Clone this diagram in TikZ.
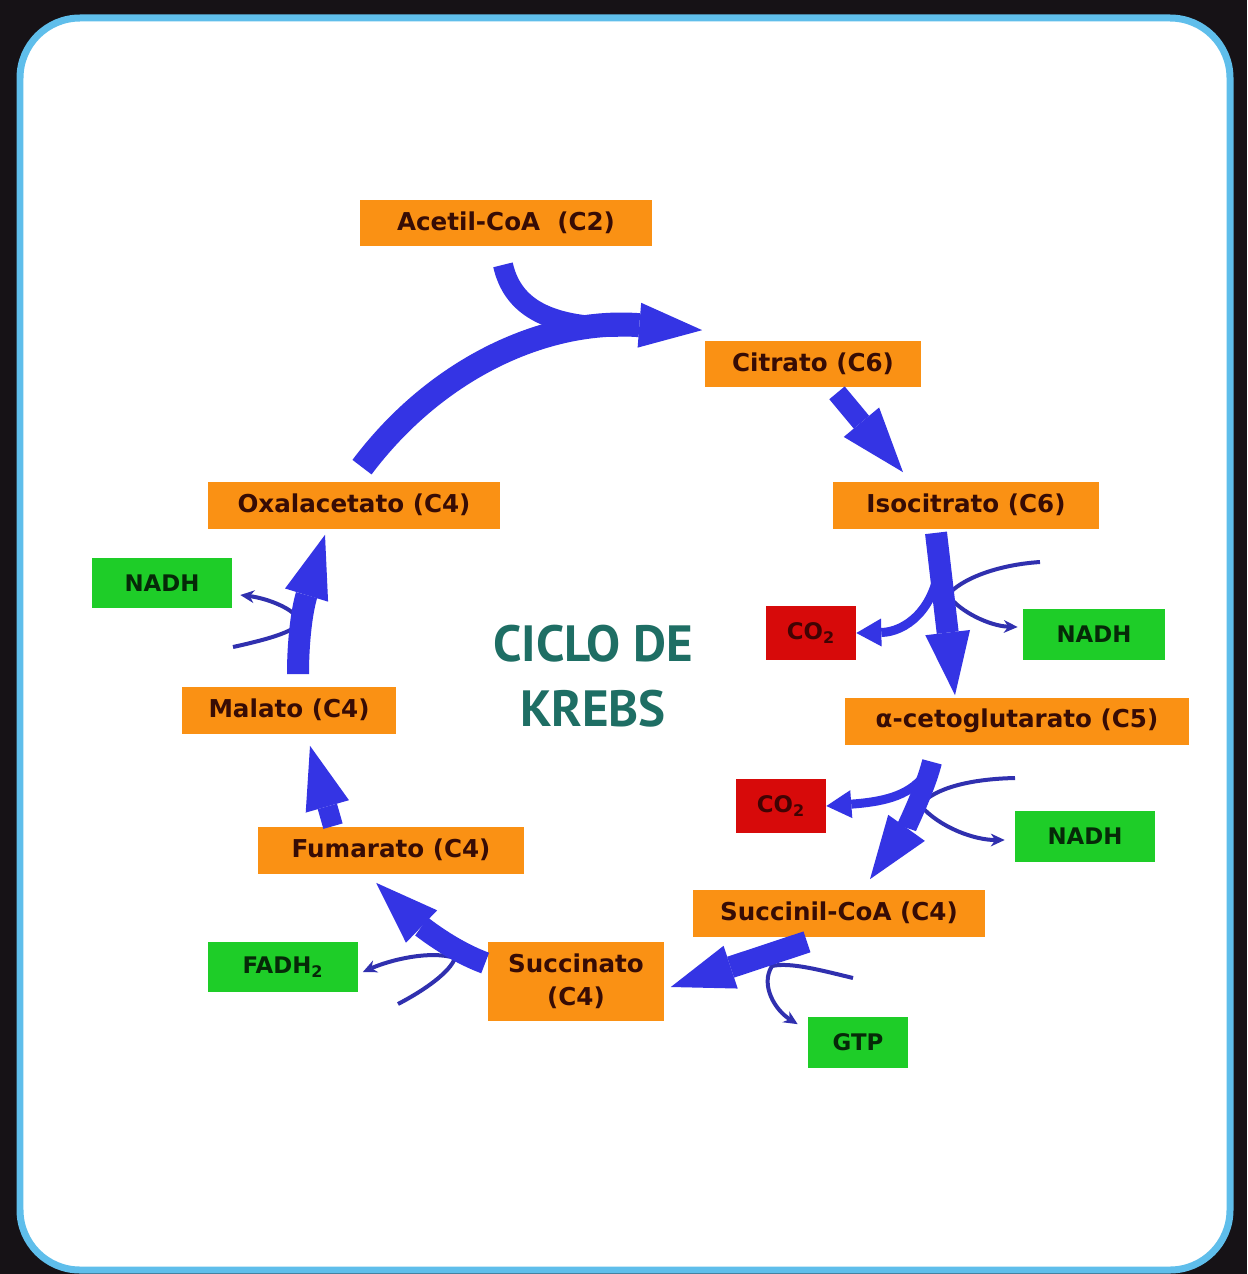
\documentclass[tikz,border=0pt]{standalone}
\usepackage{fontspec}
\setmainfont{DejaVu Sans}
\newfontfamily\titlefont{PT Sans}
\usetikzlibrary{arrows.meta,calc}
\definecolor{kblue}{RGB}{52,52,228}
\definecolor{kbluedark}{RGB}{48,48,175}
\definecolor{korange}{RGB}{250,145,20}
\definecolor{kgreen}{RGB}{30,205,40}
\definecolor{kred}{RGB}{215,10,10}
\definecolor{kbrown}{RGB}{55,12,5}
\definecolor{kteal}{RGB}{30,110,100}
\definecolor{kframe}{RGB}{95,190,235}
\definecolor{kdark}{RGB}{22,18,22}

\begin{document}
\begin{tikzpicture}[x=0.02cm, y=-0.02cm,
    metab/.style={fill=korange, minimum height=0.94cm, inner sep=0pt, text=kbrown,
                  font=\fontsize{14}{19}\selectfont\bfseries},
    carrier/.style={fill=kgreen, minimum height=1.02cm, inner sep=0pt, text=kgreen!20!black,
                    font=\fontsize{13}{16}\selectfont\bfseries},
    gas/.style={fill=kred, minimum width=1.8cm, minimum height=1.07cm, inner sep=0pt,
                text=kred!30!black, font=\fontsize{13}{16}\selectfont\bfseries},
    flow/.style={draw=kblue, line width=4.4mm, -{Triangle[length=12.6mm,width=9mm,line width=0pt]}},
    side/.style={draw=kblue, line width=1.8mm, -{Triangle[length=5mm,width=5.6mm,line width=0pt]}},
    branch/.style={draw=kbluedark, line width=0.8mm, -{Stealth[length=2.8mm,width=2.6mm,line width=0pt]}}
]
\useasboundingbox (0,0) rectangle (1247,1274);

% Frame
\fill[kdark] (0,0) rectangle (1247,1274);
\draw[draw=kframe, line width=1.4mm, fill=white, rounded corners=1.2cm] (20,18) rectangle (1230,1270);

% Metabolites
\node[metab, minimum width=5.86cm] (acetil) at (506,223) {Acetil-CoA\ \ (C2)};
\node[metab, minimum width=4.34cm] (citrato) at (813,364) {Citrato (C6)};
\node[metab, minimum width=5.34cm] (isocitrato) at (966,505) {Isocitrato (C6)};
\node[metab, minimum width=6.9cm] (cetoglut) at (1017,721) {α-cetoglutarato (C5)};
\node[metab, minimum width=5.84cm] (succinil) at (839,913) {Succinil-CoA (C4)};
\node[metab, minimum width=3.54cm, minimum height=1.58cm, align=center] (succinato) at (576,981) {Succinato\\(C4)};
\node[metab, minimum width=5.34cm] (fumarato) at (391,850) {Fumarato (C4)};
\node[metab, minimum width=4.3cm] (malato) at (289,710) {Malato (C4)};
\node[metab, minimum width=5.84cm] (oxal) at (354,505) {Oxalacetato (C4)};

% Products
\node[carrier, minimum width=2.8cm, minimum height=1.0cm] (nadhC) at (162,583) {NADH};
\node[carrier, minimum width=2.84cm] (nadhA) at (1094,634) {NADH};
\node[carrier, minimum width=2.8cm] (nadhB) at (1085,836) {NADH};
\node[carrier, minimum width=2.0cm] (gtp) at (858,1042) {GTP};
\node[carrier, minimum width=3.02cm, minimum height=1.0cm] (fadh) at (283,967) {FADH\textsubscript{2}};
\node[gas] (co2a) at (811,633) {CO\textsubscript{2}};
\node[gas] (co2b) at (781,806) {CO\textsubscript{2}};

% Title
\node[text=kteal, font=\titlefont\fontsize{29}{37}\selectfont\bfseries, align=center] (title) at (593,676) {CICLO DE\\KREBS};

% Branch points
\coordinate (join) at (618,327);
\coordinate (isoSplit) at (940,560);
\coordinate (cetoSplit) at (924,776);
\coordinate (nadhAin) at (1040,562);
\coordinate (nadhBin) at (1015,778);
\coordinate (gtpIn) at (853,978);
\coordinate (fadhIn) at (398,1004);
\coordinate (nadhCin) at (233,647);

% Cofactor side arrows (under the main flow)
\draw[branch] (nadhAin) .. controls (995,565) and (960,580) .. (948,595) .. controls (960,612) and (990,626) .. ($(nadhA.west)+(-5,-7)$);
\draw[branch] (nadhBin) .. controls (970,779) and (935,788) .. (920,805) .. controls (940,828) and (975,840) .. ($(nadhB.west)+(-10,4)$);
\draw[branch] (gtpIn) .. controls (820,970) and (790,962) .. (772,966) .. controls (760,985) and (775,1010) .. ($(gtp.north west)+(-10,8)$);
\draw[branch] (fadhIn) .. controls (425,990) and (450,972) .. (455,958) .. controls (430,950) and (390,960) .. ($(fadh.east)+(4,5)$);
\draw[branch] (nadhCin) .. controls (265,640) and (295,632) .. (300,622) .. controls (295,608) and (265,598) .. ($(nadhC.east)+(8,12)$);
\draw[side] (isoSplit) .. controls (936,610) and (905,632) .. (co2a.east);
\draw[side] (cetoSplit) .. controls (908,797) and (880,802) .. (co2b.east);

% Main cycle
\draw[draw=kblue, line width=4mm] ($(acetil.south)+(-3,18)$) .. controls (512,305) and (545,327) .. (join);
\draw[flow, line width=4.8mm] ($(oxal.north)+(8,-14)$) .. controls (438,366) and (548,318) .. ($(citrato.north west)+(-2,-10)$);
\draw[flow, line width=4mm, -{Triangle[length=13mm,width=9.2mm,line width=0pt]}] ($(citrato.south)+(24,5)$) -- ($(isocitrato.north)+(-63,-9)$);
\draw[flow] ($(isocitrato.south)+(-30,4)$) -- ($(cetoglut.north)+(-62,-2)$);
\draw[flow, line width=4mm] ($(cetoglut.south)+(-85,17)$) .. controls (925,790) and (905,830) .. ($(succinil.north)+(31,-10)$);
\draw[flow] ($(succinil.south)+(-32,5)$) -- ($(succinato.east)+(6,6)$);
\draw[flow] ($(succinato.west)+(-2,-18)$) .. controls (450,950) and (420,925) .. ($(fumarato.south west)+(119,9)$);
\draw[flow, line width=4mm] ($(fumarato.north)+(-58,0)$) -- ($(malato.south)+(21,12)$);
\draw[flow] ($(malato.north)+(9,-12)$) .. controls (298,640) and (302,610) .. ($(oxal.south)+(-29,6)$);

\end{tikzpicture}
\end{document}
